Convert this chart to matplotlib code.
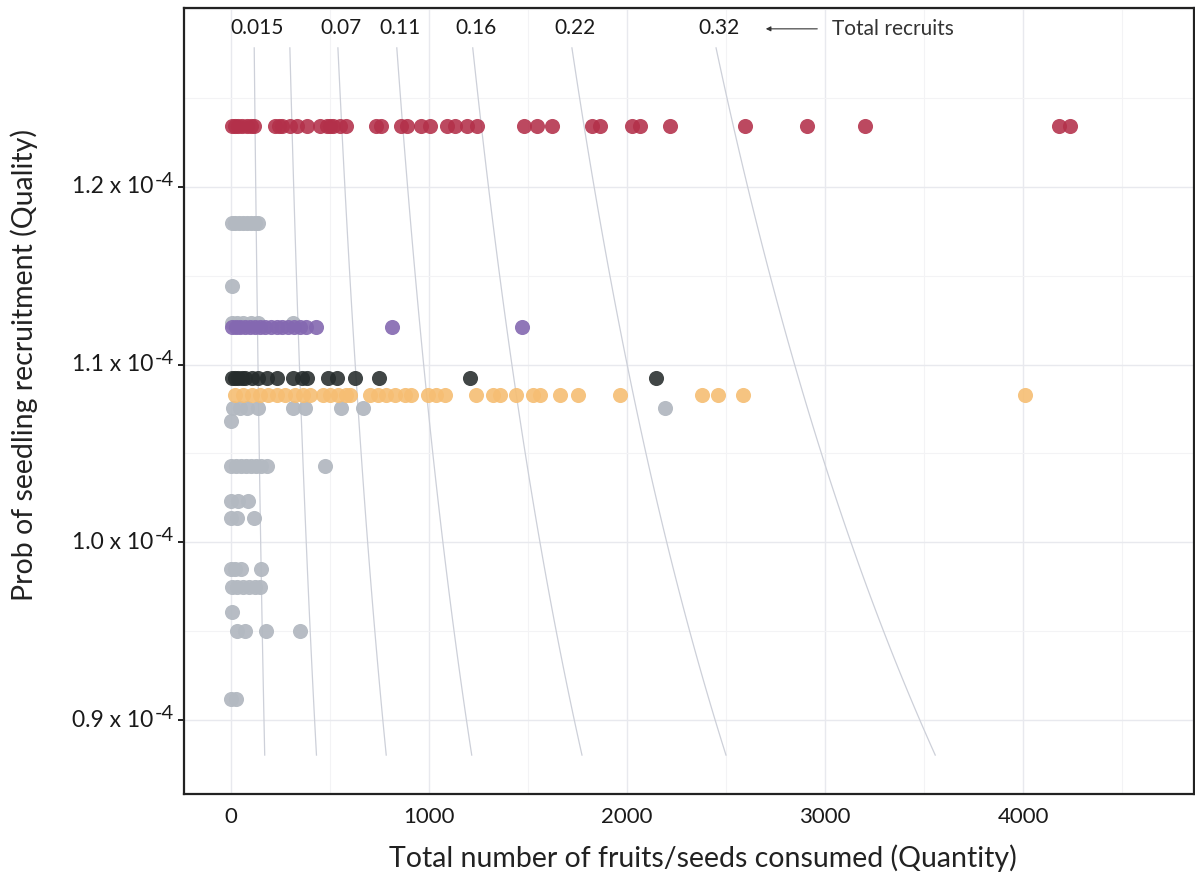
import numpy as np
import matplotlib
matplotlib.use("Agg")
import matplotlib.pyplot as plt
import matplotlib.transforms as mtransforms
from matplotlib.ticker import FixedLocator, MultipleLocator

plt.rcParams['font.family'] = ['Lato', 'DejaVu Sans']

# quality levels (prob of recruitment) and quantities per group
red_y = 1.2343e-4
red_x = [3, 20, 37, 55, 79, 100, 118, 222, 240, 256, 298, 331, 382, 449, 483, 500, 516,
         550, 583, 730, 755, 856, 889, 957, 1007, 1091, 1133, 1192, 1242,
         1478, 1545, 1620, 1822, 1864, 2024, 2066, 2217, 2597, 2910, 3202, 4180, 4236]

purple_y = 1.1212e-4
purple_x = [5, 25, 45, 70, 95, 120, 145, 170, 200, 230, 260, 290, 320, 350, 380, 430, 813, 1469]

dark_y = 1.0925e-4
dark_x = [3, 20, 37, 55, 71, 104, 138, 180, 230, 314, 357, 382, 491, 533, 625, 746, 1205, 2147]

orange_y = 1.0826e-4
orange_x = [20, 62, 104, 146, 188, 230, 272, 323, 365, 399, 466, 499, 541, 583, 600, 701,
            743, 785, 827, 878, 911, 995, 1037, 1079, 1239, 1323, 1357, 1441, 1524, 1558,
            1659, 1752, 1965, 2377, 2461, 2587, 4010]

gray_y = [1.1798e-4] * 8 + [1.1444e-4] + [1.1236e-4] * 6 + [1.0753e-4] * 9 + [1.0682e-4] \
    + [1.0429e-4] * 9 + [1.0232e-4] * 3 + [1.0139e-4] * 3 + [0.9850e-4] * 4 \
    + [0.9747e-4] * 6 + [0.9606e-4] + [0.9503e-4] * 4 + [0.9118e-4] * 2
gray_x = [3, 20, 40, 60, 80, 100, 120, 136] + [5] + [3, 30, 60, 100, 136, 311] \
    + [12, 45, 79, 138, 314, 373, 555, 667, 2189] + [2] \
    + [0, 25, 50, 75, 100, 125, 150, 183, 474] + [0, 37, 87] + [0, 29, 118] \
    + [0, 20, 50, 151] + [3, 30, 60, 90, 120, 146] + [3] + [29, 71, 175, 348] + [0, 24]

# total recruits isolines (quantity * quality)
iso_vals = [0.015, 0.038, 0.069, 0.107, 0.156, 0.22, 0.313]
iso_labels = ['0.015', '', '0.07', '0.11', '0.16', '0.22', '0.32']

yticks = [0.9e-4, 1.0e-4, 1.1e-4, 1.2e-4]
ytick_labels = ['0.9 x 10', '1.0 x 10', '1.1 x 10', '1.2 x 10']
ytick_exp = '-4'
xticks = [0, 1000, 2000, 3000, 4000]

fig = plt.figure(figsize=(11.95, 8.74), dpi=100)
ax = fig.add_axes([0.154, 0.0915, 0.845, 0.8995])

ax.set_xlim(-237, 4861)
ax.set_ylim(0.8584e-4, 1.3006e-4)

ax.xaxis.set_major_locator(FixedLocator(xticks))
ax.xaxis.set_minor_locator(MultipleLocator(500))
ax.yaxis.set_major_locator(FixedLocator(yticks))
ax.yaxis.set_minor_locator(MultipleLocator(0.05e-4))
ax.grid(which='major', color='#e8e9ee', lw=1.0)
ax.grid(which='minor', color='#f3f3f5', lw=0.8)
ax.set_axisbelow(True)

# isolines
y_top, y_bot = 1.2781e-4, 0.8803e-4
yy = np.linspace(y_bot, y_top, 100)
for c, lab in zip(iso_vals, iso_labels):
    ax.plot(c / yy, yy, color='#cdd0d9', lw=0.9, zorder=1)
    if lab:
        ax.text(c / y_top + 15, 1.2893e-4, lab, ha='center', va='center',
                fontsize=15, color='#1a1a1a')

ax.annotate('', xy=(2700, 1.2888e-4), xytext=(2960, 1.2888e-4),
            arrowprops=dict(arrowstyle='-|>', color='#333333', lw=0.8,
                            mutation_scale=7, shrinkA=0, shrinkB=0))
ax.text(3036, 1.2888e-4, 'Total recruits', ha='left', va='center',
        fontsize=15, color='#333333')

ms = 118
ax.scatter(gray_x, gray_y, s=ms, color='#b3b9c1', alpha=0.95, lw=0, zorder=2)
ax.scatter(purple_x, [purple_y] * len(purple_x), s=ms, color='#8468b1', alpha=0.9, lw=0, zorder=3)
ax.scatter(dark_x, [dark_y] * len(dark_x), s=ms, color='#262c2c', alpha=0.88, lw=0, zorder=3)
ax.scatter(orange_x, [orange_y] * len(orange_x), s=ms, color='#f6be73', alpha=0.9, lw=0, zorder=3)
ax.scatter(red_x, [red_y] * len(red_x), s=ms, color='#b3304a', alpha=0.88, lw=0, zorder=3)

for sp in ax.spines.values():
    sp.set_color('#222222')
    sp.set_linewidth(1.6)

ax.tick_params(axis='y', which='major', length=4, width=1.4, color='#222222',
               labelleft=False)
ax.tick_params(axis='x', which='major', length=0, labelsize=16,
               labelcolor='#1a1a1a', pad=9)
ax.tick_params(which='minor', length=0)

# y tick labels with a large superscript, like the original
trans = mtransforms.blended_transform_factory(ax.transAxes, ax.transData)
t_main = trans + mtransforms.ScaledTranslation(-31 / 100, 0, fig.dpi_scale_trans)
t_exp = trans + mtransforms.ScaledTranslation(-10 / 100, 6.5 / 100, fig.dpi_scale_trans)
for yv, lab in zip(yticks, ytick_labels):
    ax.text(0, yv, lab, transform=t_main, ha='right', va='center', fontsize=16.5,
            color='#1a1a1a')
    ax.text(0, yv, ytick_exp, transform=t_exp, ha='right', va='center', fontsize=14.5,
            color='#1a1a1a')

ax.set_xlabel('Total number of fruits/seeds consumed (Quantity)', fontsize=20.5,
              color='#222222')
ax.xaxis.set_label_coords(0.514, -0.064)
ax.set_ylabel('Prob of seedling recruitment (Quality)', fontsize=20.5,
              color='#222222')
ax.yaxis.set_label_coords(-0.145, 0.546)

fig.savefig('out.png', dpi=100)
